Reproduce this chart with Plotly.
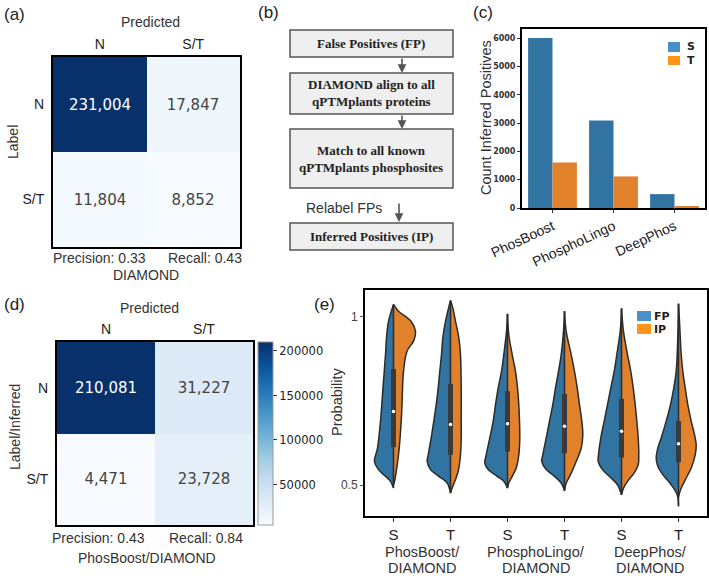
import plotly.graph_objects as go
import plotly.express as px

W, H = 709, 576


def fx(x):
    return x / W


def fy(y):
    return 1 - y / H


# ---------------- data ----------------
cm_labels = ['N', 'S/T']
cm_diamond = [[231004, 17847], [11804, 8852]]
cm_phosboost = [[210081, 31227], [4471, 23728]]

tools = ['PhosBoost', 'PhosphoLingo', 'DeepPhos']
inferred_s = [6000, 3090, 490]
inferred_t = [1610, 1115, 40]

violin_ticks = ['S', 'T', 'S', 'T', 'S', 'T']
violin_groups = ['PhosBoost/', 'PhosphoLingo/', 'DeepPhos/']

# half-violin outlines: probability levels and density (half width)
fp_prob = [
    [1.037, 0.987, 0.938, 0.888, 0.789, 0.690, 0.610, 0.570, 0.546, 0.526, 0.511, 0.491],
    [1.049, 0.987, 0.938, 0.888, 0.838, 0.789, 0.739, 0.690, 0.640, 0.590, 0.570, 0.546, 0.526, 0.506, 0.476],
    [1.009, 0.957, 0.888, 0.838, 0.789, 0.739, 0.690, 0.640, 0.590, 0.565, 0.546, 0.526, 0.511, 0.491],
    [1.017, 0.957, 0.888, 0.838, 0.789, 0.739, 0.690, 0.640, 0.590, 0.570, 0.546, 0.526, 0.506, 0.483],
    [1.025, 0.957, 0.888, 0.838, 0.789, 0.739, 0.690, 0.640, 0.590, 0.570, 0.546, 0.526, 0.501, 0.471],
    [1.039, 0.938, 0.838, 0.789, 0.739, 0.690, 0.640, 0.610, 0.580, 0.556, 0.531, 0.501, 0.471, 0.437],
]
fp_dens = [
    [0, 5, 7, 8, 10.5, 13, 16, 19, 15, 8, 3, 0],
    [0, 5, 7.7, 9, 10.7, 12.3, 14.3, 16.7, 19.3, 22.3, 23.3, 20, 11.7, 3.3, 0],
    [0, 1, 3.7, 6, 9.3, 12, 14.3, 17.7, 21.3, 22.7, 19.3, 10.3, 3.7, 0],
    [0, 1, 3.3, 6, 9, 11.7, 15, 18.3, 21.7, 22.7, 18.3, 10, 3.3, 0],
    [0, 1.3, 4.7, 7.3, 10.7, 14, 17.3, 20.7, 23, 23.3, 19, 12.3, 4, 0],
    [0, 0.7, 2.3, 4.7, 8, 12.3, 17.3, 20.7, 22.3, 20.7, 15.7, 7.3, 1.3, 0],
]
ip_prob = [
    [1.037, 1.017, 0.987, 0.957, 0.928, 0.898, 0.838, 0.739, 0.690, 0.610, 0.551, 0.511, 0.501],
    [1.049, 1.027, 0.987, 0.938, 0.888, 0.789, 0.690, 0.640, 0.590, 0.541, 0.511, 0.491, 0.476],
    [1.009, 0.947, 0.888, 0.838, 0.789, 0.739, 0.690, 0.640, 0.590, 0.551, 0.526, 0.506, 0.491],
    [1.017, 0.957, 0.888, 0.838, 0.789, 0.739, 0.690, 0.650, 0.610, 0.570, 0.531, 0.506, 0.483],
    [1.025, 0.957, 0.888, 0.838, 0.789, 0.739, 0.690, 0.640, 0.590, 0.560, 0.536, 0.511, 0.491, 0.471],
    [1.039, 0.987, 0.888, 0.838, 0.789, 0.739, 0.690, 0.650, 0.620, 0.590, 0.551, 0.521, 0.491, 0.466],
]
ip_dens = [
    [0, 5, 17.5, 22, 20, 13.5, 10, 8.5, 7.7, 5.7, 3.3, 1, 0],
    [0, 2.3, 5, 8.3, 10, 10.7, 10.7, 10.7, 10, 7.7, 4.3, 1.7, 0],
    [0, 1.3, 4.7, 8, 10, 11.3, 12, 12.3, 11.3, 8.7, 4.7, 1.3, 0],
    [0, 1.7, 6.7, 10, 12.7, 15, 17.3, 18.3, 16.7, 11.7, 6, 1.7, 0],
    [0, 2, 6, 9.3, 11.7, 13.7, 15.3, 16.7, 17.3, 16.7, 12.7, 6, 2, 0],
    [0, 1, 2.7, 4.3, 6.7, 9.3, 12.7, 16, 17.7, 16.7, 12.7, 7.7, 2.7, 0],
]
q1 = [0.613, 0.590, 0.600, 0.595, 0.582, 0.568]
median = [0.719, 0.680, 0.682, 0.675, 0.660, 0.623]
q3 = [0.845, 0.801, 0.779, 0.771, 0.756, 0.690]

# ---------------- styles ----------------
BLUE = '#3274a1'
ORANGE = '#e1812c'
LEG_BLUE = '#4a90c8'
LEG_ORANGE = '#ff9416'
DENS_SCALE = 1 / 57.0
SANS = 'Liberation Sans, Arial, sans-serif'
DJ = 'DejaVu Sans, sans-serif'
SERIF = 'Liberation Serif, Times New Roman, serif'
blues = px.colors.sequential.Blues

frame = dict(showline=True, mirror=True, linecolor='black', linewidth=2,
             showgrid=False, zeroline=False, automargin=False)

fig = go.Figure()

# (a) confusion matrix DIAMOND
fig.add_trace(go.Heatmap(
    z=cm_diamond, x=cm_labels, y=cm_labels, colorscale=blues, showscale=False,
    text=[[f'{v:,}' for v in row] for row in cm_diamond], texttemplate='%{text}',
    textfont=dict(family=DJ, size=15), hoverinfo='skip', xaxis='x', yaxis='y'))

# (d) confusion matrix PhosBoost/DIAMOND
fig.add_trace(go.Heatmap(
    z=cm_phosboost, x=cm_labels, y=cm_labels, colorscale=blues,
    text=[[f'{v:,}' for v in row] for row in cm_phosboost], texttemplate='%{text}',
    textfont=dict(family=DJ, size=15), hoverinfo='skip', xaxis='x2', yaxis='y2',
    colorbar=dict(x=fx(258), xanchor='left', y=fy(525), yanchor='bottom',
                  len=183 / H, thickness=15, xpad=0, ypad=0,
                  outlinewidth=1, outlinecolor='#999',
                  tickvals=[50000, 100000, 150000, 200000],
                  ticktext=['50000', '100000', '150000', '200000'], ticks='outside',
                  ticklen=4, tickcolor='#333',
                  tickfont=dict(family=DJ, size=11.5, color='#222'))))

# (c) inferred positive counts
fig.add_trace(go.Bar(x=tools, y=inferred_s, name='S', marker_color=BLUE,
                     marker_line_width=0, xaxis='x3', yaxis='y3'))
fig.add_trace(go.Bar(x=tools, y=inferred_t, name='T', marker_color=ORANGE,
                     marker_line_width=0, xaxis='x3', yaxis='y3'))

# (e) split violins
for i in range(6):
    xs = [i - d * DENS_SCALE for d in fp_dens[i]]
    fig.add_trace(go.Scatter(x=xs, y=fp_prob[i], mode='lines', fill='toself',
                             fillcolor=BLUE, line=dict(color='#2b2b2b', width=1.5,
                                                       shape='spline', smoothing=1),
                             xaxis='x4', yaxis='y4', hoverinfo='skip'))
    xs = [i + d * DENS_SCALE for d in ip_dens[i]]
    fig.add_trace(go.Scatter(x=xs, y=ip_prob[i], mode='lines', fill='toself',
                             fillcolor=ORANGE, line=dict(color='#2b2b2b', width=1.5,
                                                         shape='spline', smoothing=1),
                             xaxis='x4', yaxis='y4', hoverinfo='skip'))
    lo = min(fp_prob[i] + ip_prob[i])
    hi = max(fp_prob[i] + ip_prob[i])
    fig.add_trace(go.Scatter(x=[i, i], y=[lo, hi], mode='lines',
                             line=dict(color='#2b2b2b', width=1.5),
                             xaxis='x4', yaxis='y4', hoverinfo='skip'))
    fig.add_trace(go.Scatter(x=[i, i], y=[q1[i], q3[i]], mode='lines',
                             line=dict(color='#3a3a3a', width=5),
                             xaxis='x4', yaxis='y4', hoverinfo='skip'))
    fig.add_trace(go.Scatter(x=[i], y=[median[i]], mode='markers',
                             marker=dict(color='white', size=3.5),
                             xaxis='x4', yaxis='y4', hoverinfo='skip'))

# ---------------- annotations ----------------
ann = []


def txt(x, y, s, size=14, color='#222', family=SANS, **kw):
    ann.append(dict(x=fx(x), y=fy(y), xref='paper', yref='paper', text=s,
                    showarrow=False, font=dict(family=family, size=size, color=color),
                    xanchor=kw.pop('xanchor', 'center'), yanchor=kw.pop('yanchor', 'middle'),
                    **kw))


# panel letters
txt(2, 14, '(a)', size=17, xanchor='left')
txt(256, 12, '(b)', size=17, xanchor='left')
txt(471, 13, '(c)', size=17, xanchor='left')
txt(2, 304, '(d)', size=17, xanchor='left')
txt(312, 304, '(e)', size=17, xanchor='left')

# (a)
txt(150, 22, 'Predicted', color='#333')
txt(13, 142, 'Label', textangle=-90, color='#333')
txt(99, 258, 'Precision: 0.33', color='#333')
txt(205, 258, 'Recall: 0.43', color='#333')
txt(146, 275, 'DIAMOND', color='#333')

# (d)
txt(149, 308, 'Predicted', color='#333')
txt(15, 427, 'Label/Inferred', textangle=-90, color='#333')
txt(98, 538, 'Precision: 0.43', color='#333')
txt(206, 538, 'Recall: 0.84', color='#333')
txt(147, 558, 'PhosBoost/DIAMOND', color='#333')

# (b) flow chart
shapes = []
boxes = [(30, 57, 'False Positives (FP)'),
         (73, 114, 'DIAMOND align to all<br>qPTMplants proteins'),
         (129, 188, 'Match to all known<br>qPTMplants phosphosites'),
         (223, 250, 'Inferred Positives (IP)')]
for top, bot, label in boxes:
    shapes.append(dict(type='rect', xref='paper', yref='paper',
                       x0=fx(290), x1=fx(453), y0=fy(bot), y1=fy(top),
                       fillcolor='#efefef', line=dict(color='#555', width=1.5)))
    txt(371, (top + bot) / 2, '<b>' + label + '</b>', size=13, family=SERIF, color='#222')

for x, head, tail in [(402, 73, 57), (402, 129, 114), (399, 222, 202)]:
    ann.append(dict(x=fx(x), y=fy(head), xref='paper', yref='paper', text='',
                    showarrow=True, ax=0, ay=tail - head, arrowhead=2, arrowsize=1.1,
                    arrowwidth=1.6, arrowcolor='#555'))
txt(344, 208, 'Relabel FPs', color='#333')

# (c) y title + legend
txt(486, 118, 'Count Inferred Positives', textangle=-90, color='#333', size=14.5)
for y0, y1, col, lab in [(42, 52, LEG_BLUE, 'S'), (56, 65, LEG_ORANGE, 'T')]:
    shapes.append(dict(type='rect', xref='paper', yref='paper', x0=fx(668), x1=fx(680),
                       y0=fy(y1), y1=fy(y0), fillcolor=col, line=dict(width=0)))
    txt(685, (y0 + y1) / 2, '<b>' + lab + '</b>', size=11, family=DJ, xanchor='left')

# (e) labels + legend
txt(337, 402, 'Probability', textangle=-90, color='#333', size=14.5)
for k, g in enumerate(violin_groups):
    for line, ypos in [(g, 552), ('DIAMOND', 568)]:
        ann.append(dict(x=2 * k + 0.5, y=fy(ypos), xref='x4', yref='paper', text=line,
                        xanchor='center', yanchor='middle', showarrow=False,
                        font=dict(family=SANS, size=14.5, color='#333')))
for y0, y1, col, lab in [(311, 321, LEG_BLUE, 'FP'), (324, 334, LEG_ORANGE, 'IP')]:
    shapes.append(dict(type='rect', xref='paper', yref='paper', x0=fx(637), x1=fx(651),
                       y0=fy(y1), y1=fy(y0), fillcolor=col, line=dict(width=0)))
    txt(652, (y0 + y1) / 2, '<b>' + lab + '</b>', size=11, family=DJ, xanchor='left')

tick_font = dict(family=SANS, size=14, color='#222')

fig.update_layout(
    width=W, height=H, margin=dict(l=0, r=0, t=0, b=0, autoexpand=False),
    paper_bgcolor='white', plot_bgcolor='white', showlegend=False,
    font=dict(family=SANS, color='#222'),
    barmode='group', bargap=0.2, bargroupgap=0,
    xaxis=dict(domain=[fx(53), fx(240)], anchor='y', side='top', ticks='',
               tickfont=tick_font, **frame),
    yaxis=dict(domain=[fy(247), fy(57)], anchor='x', autorange='reversed', ticks='',
               tickfont=tick_font, ticklabelstandoff=4, **frame),
    xaxis2=dict(domain=[fx(57), fx(253)], anchor='y2', side='top', ticks='',
                tickfont=tick_font, **frame),
    yaxis2=dict(domain=[fy(525), fy(342)], anchor='x2', autorange='reversed', ticks='',
                tickfont=tick_font, ticklabelstandoff=4, **frame),
    xaxis3=dict(domain=[fx(522), fx(705)], anchor='y3', tickangle=-25, ticks='outside',
                ticklen=3, tickcolor='#333', tickfont=dict(family=SANS, size=14, color='#222'),
                **frame),
    yaxis3=dict(domain=[fy(208), fy(29)], anchor='x3', range=[0, 6320],
                tickvals=[0, 1000, 2000, 3000, 4000, 5000, 6000], ticks='outside',
                ticklen=3, tickcolor='#333',
                tickfont=dict(family=DJ, size=8, color='#333', weight='bold'), **frame),
    xaxis4=dict(domain=[fx(365), fx(707)], anchor='y4', range=[-0.5, 5.5],
                tickvals=list(range(6)), ticktext=violin_ticks, ticks='outside',
                ticklen=4, tickcolor='#333',
                tickfont=dict(family=SANS, size=15, color='#222'), **frame),
    yaxis4=dict(domain=[fy(516), fy(290)], anchor='x4', range=[0.408, 1.08],
                tickvals=[0.5, 1], ticktext=['0.5', '1'], ticks='outside', ticklen=3,
                tickcolor='#555', tickfont=dict(family=SANS, size=12, color='#444'),
                **frame),
    annotations=ann, shapes=shapes,
)

# the page's default 8px body margin would push the figure off the window
fig.write_html('out.html', config={'displayModeBar': False},
               post_script="document.body.style.margin='0';")
